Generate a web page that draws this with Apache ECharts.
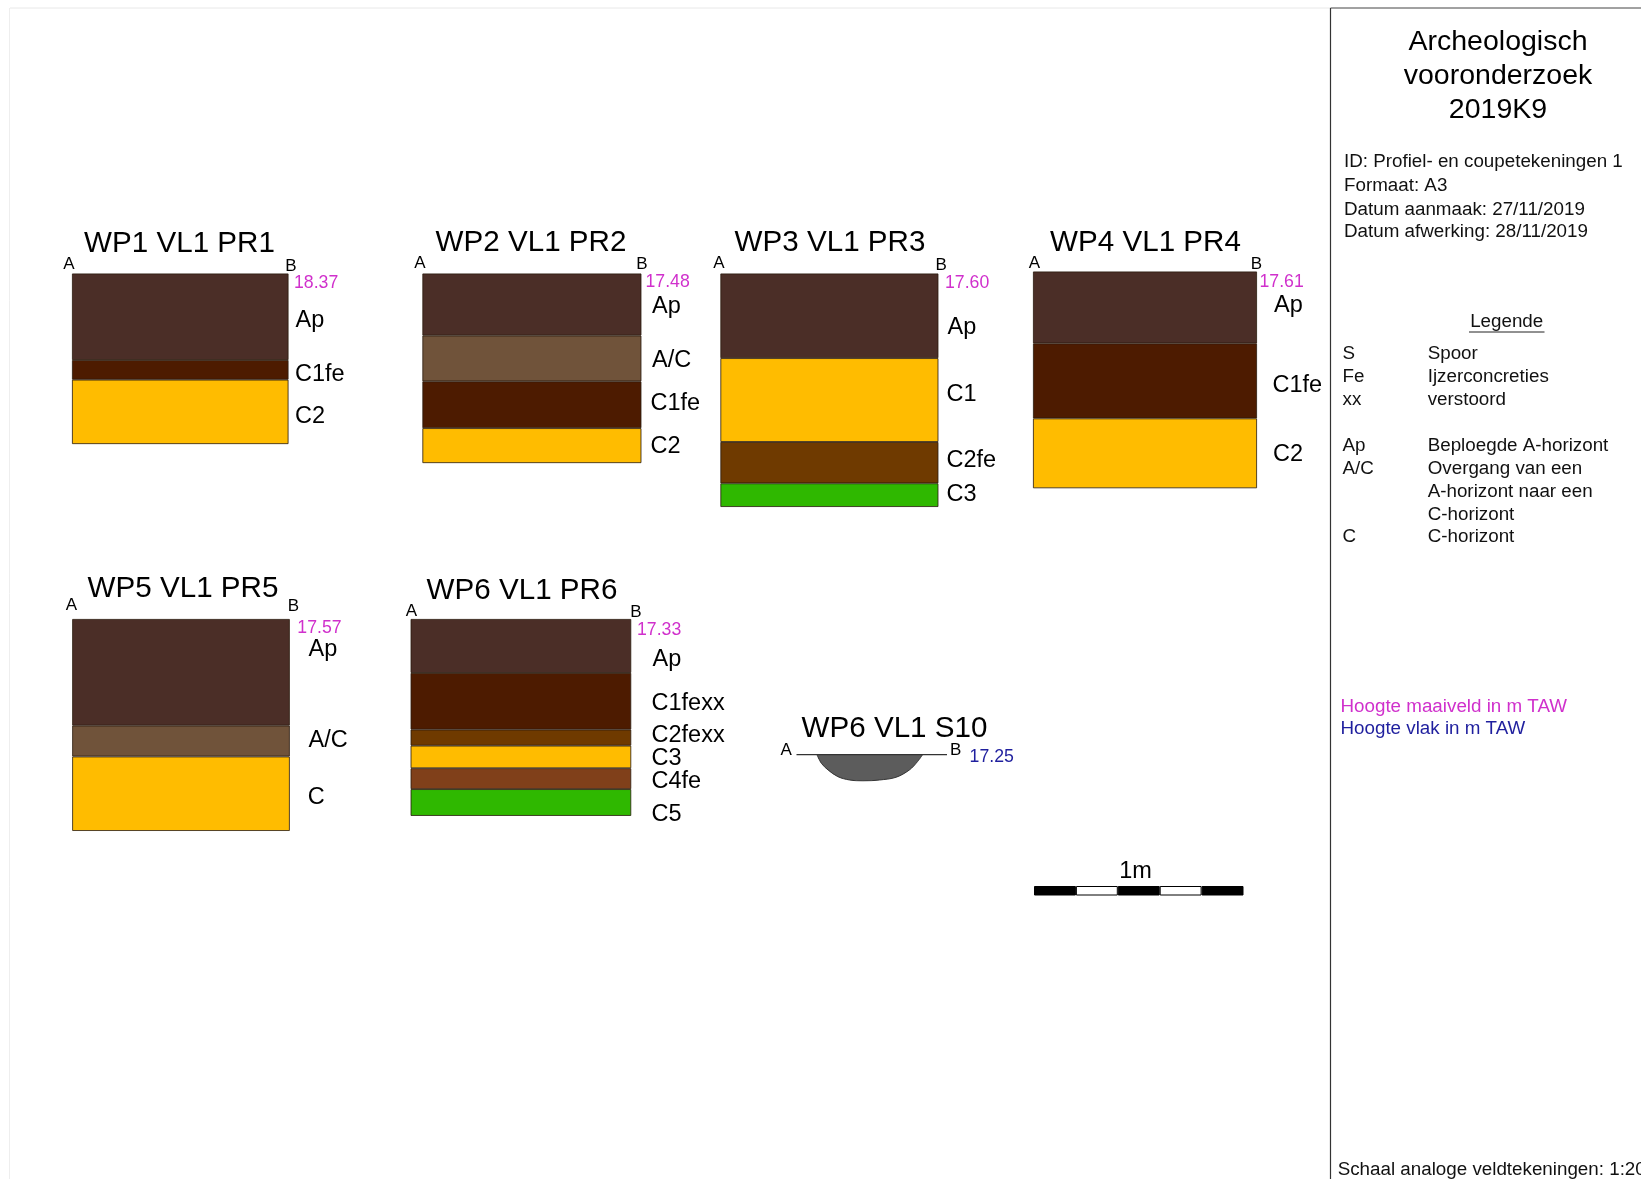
<!DOCTYPE html>
<html>
<head>
<meta charset="utf-8">
<style>html,body{margin:0;padding:0;background:#fff;overflow:hidden}#c{width:1641px;height:1179px}</style>
<script src="https://cdn.jsdelivr.net/npm/echarts@6/dist/echarts.min.js"></script>
</head>
<body>
<div id="c"></div>
<script>
// ---------- data (depths in cm) ----------
const profileNames = ['WP1 VL1 PR1','WP2 VL1 PR2','WP3 VL1 PR3','WP4 VL1 PR4','WP5 VL1 PR5','WP6 VL1 PR6'];
const wp1Layers = ['Ap','C1fe','C2'];
const wp1Depths = [41.4, 9.4, 30.8];
const wp2Layers = ['Ap','A/C','C1fe','C2'];
const wp2Depths = [29.7, 21.9, 22.4, 16.7];
const wp3Layers = ['Ap','C1','C2fe','C3'];
const wp3Depths = [40.5, 40.1, 19.8, 11.3];
const wp4Layers = ['Ap','C1fe','C2'];
const wp4Depths = [34.4, 35.9, 33.4];
const wp5Layers = ['Ap','A/C','C'];
const wp5Depths = [51, 14.8, 35.6];
const wp6Layers = ['Ap','C1fexx','C2fexx','C3','C4fe','C5'];
const wp6Depths = [25.8, 27.1, 7.7, 10.8, 10, 12.8];
const surfaceHeights = ['18.37','17.48','17.60','17.61','17.57','17.33'];
const s10Name = 'WP6 VL1 S10';
const s10Height = '17.25';
const s10X = [9.8, 11.9, 15.1, 19.8, 25.4, 31.7, 39.7, 47.6, 54, 57.9, 60.3];
const s10Depth = [0, 4.1, 7.3, 10.5, 12.1, 12.6, 12.1, 10.8, 7.3, 3.3, 0];
const s10SurfaceX = [0, 72];
const scaleSegments = [20, 20, 20, 20, 20];
const scaleLabel = '1m';

const titleLines = ['Archeologisch','vooronderzoek','2019K9'];
const infoLines = ['ID: Profiel- en coupetekeningen 1','Formaat: A3','Datum aanmaak: 27/11/2019','Datum afwerking: 28/11/2019'];
const legendTitle = 'Legende';
const legendCodes = ['S','Fe','xx','Ap','A/C','C'];
const legendTexts = ['Spoor','Ijzerconcreties','verstoord','Beploegde A-horizont','Overgang van een','A-horizont naar een','C-horizont','C-horizont'];
const keyMaaiveld = 'Hoogte maaiveld in m TAW';
const keyVlak = 'Hoogte vlak in m TAW';
const scaleNote = 'Schaal analoge veldtekeningen: 1:20';

// ---------- styles and layout ----------
const FONT = '"Liberation Sans", Arial, sans-serif';
const PX_PER_CM = 2.09;
const TEXT_DY = 1.8;
const C = {ap:'#4b2e27', ac:'#70533a', fe:'#4d1b00', yel:'#ffbc00', fe2:'#6f3a00', fe4:'#80401a', grn:'#2fb800'};
const MAGENTA = '#d030cc', BLUE = '#1f1f9e';
const profiles = [
  {layers:wp1Layers, depths:wp1Depths, colors:[C.ap,C.fe,C.yel], x:72, y:273.5, w:216.5,
   tx:179.5, ty:241.7, a:[68.9,262.7], b:[291,264.3], h:[294,281.7],
   lab:[[295.5,318.3],[295,372.3],[295,415]]},
  {layers:wp2Layers, depths:wp2Depths, colors:[C.ap,C.ac,C.fe,C.yel], x:422.4, y:273.5, w:219,
   tx:531, ty:240.7, a:[420,262], b:[641.9,263], h:[645.5,280.3],
   lab:[[652,305],[652,359],[650.5,401.7],[650.5,444.3]]},
  {layers:wp3Layers, depths:wp3Depths, colors:[C.ap,C.yel,C.fe2,C.grn], x:720.4, y:273.5, w:218,
   tx:830, ty:240.7, a:[718.8,262], b:[941.2,264], h:[945,281],
   lab:[[947.5,325.7],[946.5,392.3],[946.5,458.3],[946.5,492.7]]},
  {layers:wp4Layers, depths:wp4Depths, colors:[C.ap,C.fe,C.yel], x:1033, y:271.5, w:224,
   tx:1145.5, ty:240.7, a:[1034.3,262], b:[1256.3,262.7], h:[1259.5,280],
   lab:[[1274,303.3],[1272.5,383.3],[1273,452.7]]},
  {layers:wp5Layers, depths:wp5Depths, colors:[C.ap,C.ac,C.yel], x:72.2, y:619, w:217.6,
   tx:183, ty:587, a:[71.3,603.3], b:[293.5,604.3], h:[297.3,626.7],
   lab:[[308.6,647.7],[308.6,739],[307.7,796]]},
  {layers:wp6Layers, depths:wp6Depths, colors:[C.ap,C.fe,C.fe2,C.yel,C.fe4,C.grn], x:410.6, y:619, w:220.6,
   tx:522, ty:589, a:[411.5,610], b:[636,611], h:[637,628.3],
   lab:[[652.5,657.3],[651.5,701.3],[651.5,734],[651.5,756.7],[651.5,780],[651.5,812.7]]}
];

function txt(text, x, y, size, fill, align){
  return {type:'text', x:x, y:y+TEXT_DY, silent:true, style:{text:text, fill:fill||'#000', fontSize:size, fontFamily:FONT,
    textAlign:align||'left', textVerticalAlign:'middle'}};
}
function hline(x1,y1,x2,y2,color,w){
  return {type:'line', silent:true, shape:{x1:x1,y1:y1,x2:x2,y2:y2}, style:{stroke:color,lineWidth:w}};
}

const grid=[], xAxis=[], yAxis=[], series=[], graphic=[];

// frame
graphic.push(hline(10,8,1330,8,'#e8e8e8',1));
graphic.push(hline(9.5,8,9.5,1179,'#eeeeee',1));
graphic.push(hline(1330.5,8,1641,8,'#444',1));
graphic.push(hline(1330.5,8,1330.5,1179,'#333',1.2));

// profiles: one grid with a stacked column per profile
profiles.forEach((p,i)=>{
  const total = p.depths.reduce((a,b)=>a+b,0);
  grid.push({left:p.x, top:p.y, width:p.w, height:total*PX_PER_CM, containLabel:false});
  xAxis.push({gridIndex:i, type:'category', data:[profileNames[i]], show:false});
  yAxis.push({gridIndex:i, type:'value', inverse:true, min:0, max:total, show:false});
  p.depths.forEach((d,j)=>{
    series.push({type:'bar', name:p.layers[j], xAxisIndex:i, yAxisIndex:i, stack:'p'+i, barWidth:'100%', data:[d],
      itemStyle:{color:p.colors[j], borderColor:'#2a1a0e', borderWidth:0.8}, silent:true});
    graphic.push(txt(p.layers[j], p.lab[j][0], p.lab[j][1], 23.5));
  });
  graphic.push(txt(profileNames[i], p.tx, p.ty, 29.6, '#000', 'center'));
  graphic.push(txt('A', p.a[0], p.a[1], 17, '#000', 'center'));
  graphic.push(txt('B', p.b[0], p.b[1], 17, '#000', 'center'));
  graphic.push(txt(surfaceHeights[i], p.h[0], p.h[1], 17.7, MAGENTA));
});

// section S10
const si = grid.length;
grid.push({left:796.5, top:754.7, width:150.5, height:12.6*PX_PER_CM});
xAxis.push({gridIndex:si, type:'value', min:0, max:72, show:false});
yAxis.push({gridIndex:si, type:'value', inverse:true, min:0, max:12.6, show:false});
series.push({type:'line', name:'S10', xAxisIndex:si, yAxisIndex:si, smooth:0.35, symbol:'none', silent:true,
  data:s10X.map((x,k)=>[x,s10Depth[k]]), lineStyle:{color:'#333',width:1}, areaStyle:{color:'#5c5c5c',origin:'start',opacity:1}});
series.push({type:'line', name:'S10 vlak', xAxisIndex:si, yAxisIndex:si, symbol:'none', silent:true,
  data:s10SurfaceX.map(x=>[x,0]), lineStyle:{color:'#333',width:1.2}});
graphic.push(txt(s10Name, 894.5, 726.7, 29.6, '#000', 'center'));
graphic.push(txt('A', 786.2, 748.3, 17, '#000', 'center'));
graphic.push(txt('B', 955.7, 749, 17, '#000', 'center'));
graphic.push(txt(s10Height, 969.6, 755.7, 17.7, BLUE));

// scale bar
const bi = grid.length;
grid.push({left:1034, top:886, width:209.5, height:9.5});
xAxis.push({gridIndex:bi, type:'value', min:0, max:100, show:false});
yAxis.push({gridIndex:bi, type:'category', data:[scaleLabel], show:false});
scaleSegments.forEach((v,k)=>{
  series.push({type:'bar', name:'schaal'+k, xAxisIndex:bi, yAxisIndex:bi, stack:'scale', barWidth:'100%', data:[v], silent:true,
    itemStyle:{color:k%2?'#fff':'#000', borderColor:'#000', borderWidth:1}});
});
graphic.push(txt(scaleLabel, 1135.5, 870, 23.5, '#000', 'center'));

// side panel
const PANEL = 18.8;
const titleY=[40,74.5,108];
titleLines.forEach((t,k)=>graphic.push(txt(t,1498,titleY[k],28.5,'#000','center')));
const infoY=[160.5,184,208,230.5];
infoLines.forEach((t,k)=>graphic.push(txt(t,1344,infoY[k],PANEL,'#111')));
graphic.push(txt(legendTitle,1506.7,320,PANEL,'#111','center'));
graphic.push(hline(1469,332,1544.5,332,'#222',1));
const codeY=[352,375,398,444,467,535];
legendCodes.forEach((t,k)=>graphic.push(txt(t,1342.5,codeY[k],PANEL,'#111')));
const textY=[352,375,398,444,467,490,512.7,535];
legendTexts.forEach((t,k)=>graphic.push(txt(t,1427.7,textY[k],PANEL,'#111')));
graphic.push(txt(keyMaaiveld,1340.5,704.7,PANEL,MAGENTA));
graphic.push(txt(keyVlak,1340.5,727.3,PANEL,BLUE));
graphic.push(txt(scaleNote,1337.7,1168.5,PANEL,'#111'));

const chart = echarts.init(document.getElementById('c'), null, {renderer:'canvas', width:1641, height:1179});
chart.setOption({animation:false, backgroundColor:'#fff', tooltip:{show:false}, grid, xAxis, yAxis, series, graphic});
</script>
</body>
</html>
